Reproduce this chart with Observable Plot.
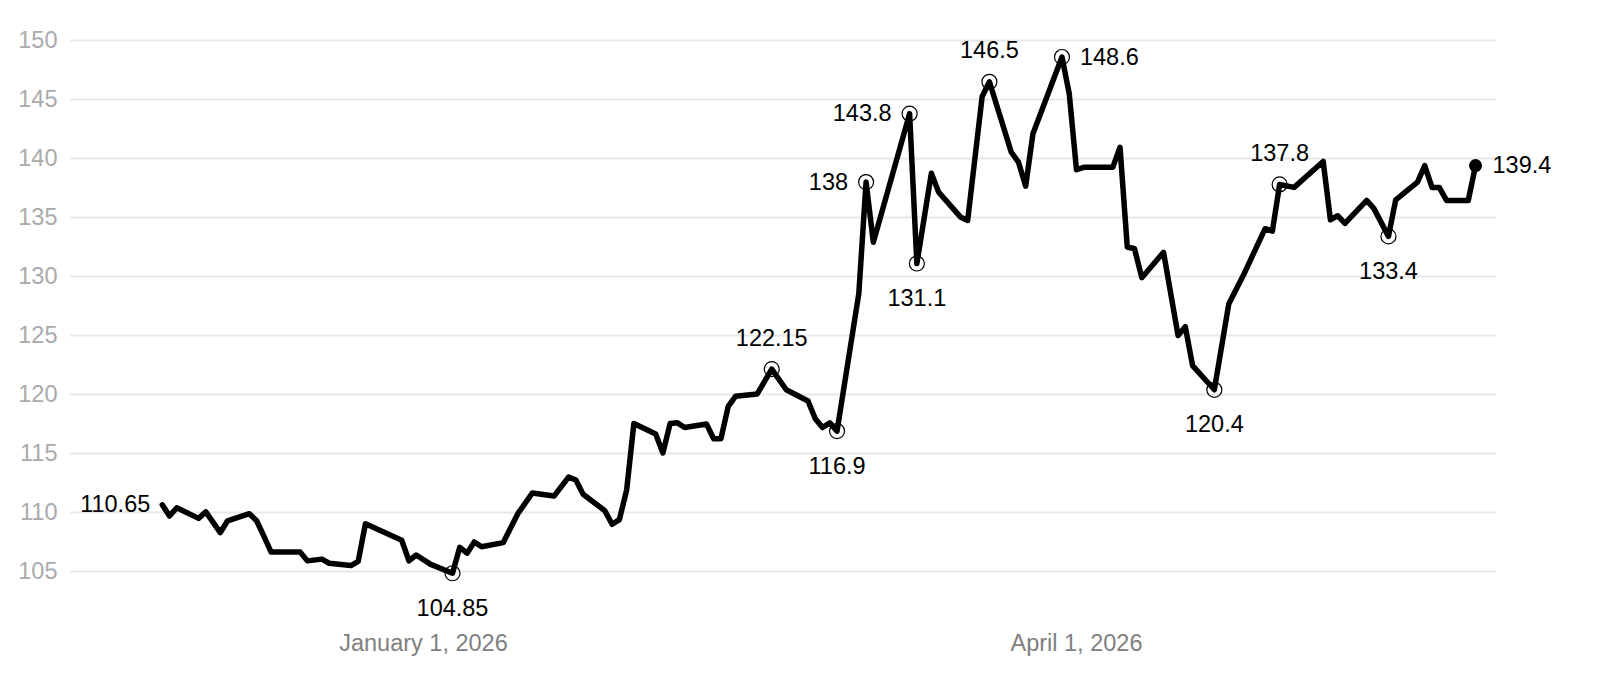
<!DOCTYPE html>
<html>
<head>
<meta charset="utf-8">
<script src="https://cdn.jsdelivr.net/npm/d3@7"></script>
<script src="https://cdn.jsdelivr.net/npm/@observablehq/plot@0.6"></script>
<style>
  html, body { margin: 0; padding: 0; background: #fff; }
</style>
</head>
<body>
<div id="chart"></div>
<script>
// ---- data ----
const dates = [
  "2025-11-26","2025-11-27","2025-11-28","2025-12-01","2025-12-02","2025-12-04","2025-12-05",
  "2025-12-08","2025-12-09","2025-12-10","2025-12-11","2025-12-15","2025-12-16","2025-12-18","2025-12-19",
  "2025-12-22","2025-12-23","2025-12-24","2025-12-29","2025-12-30","2025-12-31","2026-01-02",
  "2026-01-05","2026-01-06","2026-01-07","2026-01-08","2026-01-09","2026-01-12","2026-01-14",
  "2026-01-16","2026-01-19","2026-01-21","2026-01-22","2026-01-23","2026-01-26","2026-01-27",
  "2026-01-28","2026-01-29","2026-01-30","2026-02-02","2026-02-03","2026-02-04","2026-02-05",
  "2026-02-06","2026-02-09","2026-02-10","2026-02-11","2026-02-12","2026-02-13","2026-02-16",
  "2026-02-18","2026-02-20","2026-02-23","2026-02-24","2026-02-25","2026-02-26","2026-02-27",
  "2026-03-02","2026-03-03","2026-03-04","2026-03-09","2026-03-10","2026-03-12","2026-03-13",
  "2026-03-16","2026-03-17","2026-03-19","2026-03-20","2026-03-23","2026-03-24","2026-03-25",
  "2026-03-26","2026-03-30","2026-03-31","2026-04-01","2026-04-02","2026-04-06","2026-04-07",
  "2026-04-08","2026-04-09","2026-04-10","2026-04-13","2026-04-15","2026-04-16","2026-04-17",
  "2026-04-20","2026-04-22","2026-04-24","2026-04-27","2026-04-28","2026-04-29","2026-05-01",
  "2026-05-05","2026-05-06","2026-05-07","2026-05-08","2026-05-11","2026-05-12","2026-05-14",
  "2026-05-15","2026-05-18","2026-05-19","2026-05-20","2026-05-21","2026-05-22","2026-05-25",
  "2026-05-26"
];
const values = [
  110.65,109.7,110.4,109.5,110.05,108.3,109.3,
  109.9,109.3,108.0,106.65,106.65,105.9,106.05,105.7,
  105.5,105.85,109.05,107.65,105.9,106.4,105.6,
  104.85,107.05,106.55,107.5,107.1,107.45,109.9,
  111.65,111.4,113.0,112.75,111.55,110.15,109.0,
  109.4,111.9,117.55,116.65,115.05,117.55,117.6,
  117.2,117.5,116.25,116.25,119.0,119.85,120.05,
  122.15,120.4,119.45,117.95,117.2,117.6,116.9,
  128.55,138,132.9,143.8,131.1,138.75,137.15,
  135.05,134.75,145.25,146.5,140.55,139.7,137.65,
  142.1,148.6,145.5,139.05,139.25,139.25,140.95,
  132.5,132.35,129.9,132.05,125.0,125.75,122.45,
  120.4,127.7,130.1,134.05,133.85,137.8,137.55,
  139.75,134.8,135.15,134.5,136.45,135.75,133.4,
  136.5,138.0,139.4,137.55,137.55,136.45,136.45,
  139.4
];
// annotated points (dates of highlighted highs / lows, first and last)
const noteDates = [
  "2025-11-26","2026-01-05","2026-02-18","2026-02-27","2026-03-03","2026-03-09","2026-03-10",
  "2026-03-20","2026-03-30","2026-04-20","2026-04-29","2026-05-14","2026-05-26"
];
const yTicks = [105,110,115,120,125,130,135,140,145,150];
const xTicks = ["2026-01-01","2026-04-01"];

// ---- layout (not data) ----
const placement = {
  "2025-11-26": ["left", -12], "2026-01-05": ["below"], "2026-02-18": ["above"],
  "2026-02-27": ["below"], "2026-03-03": ["left", -18], "2026-03-09": ["left", -18],
  "2026-03-10": ["below"], "2026-03-20": ["above"], "2026-03-30": ["right", 18],
  "2026-04-20": ["below"], "2026-04-29": ["above"], "2026-05-14": ["below"],
  "2026-05-26": ["right", 17]
};

const parse = s => new Date(s + "T00:00:00Z");
const data = dates.map((d, i) => ({date: parse(d), value: values[i], key: d}));
const byKey = new Map(data.map(d => [d.key, d]));
const notes = noteDates.map(k => ({...byKey.get(k), place: placement[k][0], off: placement[k][1] || 0}));
const first = noteDates[0], last = noteDates[noteDates.length - 1];
const ringed = notes.filter(n => n.key !== first && n.key !== last);
const endDot = notes.filter(n => n.key === last);

const fmtDate = d3.utcFormat("%B %-d, %Y");
const txt = {x: "date", y: "value", text: d => String(d.value), fill: "#000"};

const noteMarks = notes.map(n => {
  if (n.place === "above") return Plot.text([n], {...txt, dy: -31});
  if (n.place === "below") return Plot.text([n], {...txt, dy: 35});
  if (n.place === "left") return Plot.text([n], {...txt, textAnchor: "end", dx: n.off});
  return Plot.text([n], {...txt, textAnchor: "start", dx: n.off});
});

const chart = Plot.plot({
  width: 1598,
  height: 696,
  marginLeft: 70,
  marginRight: 102,
  marginTop: 40,
  marginBottom: 125,
  style: {fontFamily: "'Liberation Sans', Arial, Helvetica, sans-serif", fontSize: "23.5px", background: "#fff", overflow: "visible"},
  x: {type: "utc", domain: [new Date("2025-11-13T08:24:00Z"), new Date("2026-05-28T21:21:00Z")]},
  y: {domain: [105, 150]},
  marks: [
    Plot.gridY(yTicks, {stroke: "#e8e8e8", strokeOpacity: 1, strokeWidth: 2}),
    Plot.axisY(yTicks, {tickSize: 0, tickPadding: 13, fill: "#aaaaaa", label: null}),
    Plot.axisX(xTicks.map(parse), {tickSize: 0, tickPadding: 63, tickFormat: fmtDate, fill: "#808080", label: null}),
    Plot.line(data, {x: "date", y: "value", stroke: "#000", strokeWidth: 5.5, strokeLinejoin: "round", strokeLinecap: "round"}),
    Plot.dot(ringed, {x: "date", y: "value", r: 7.5, stroke: "#000", strokeWidth: 1.2, fill: "none"}),
    Plot.dot(endDot, {x: "date", y: "value", r: 6.5, fill: "#000", stroke: "none"}),
    ...noteMarks
  ]
});
document.getElementById("chart").appendChild(chart);
</script>
</body>
</html>
